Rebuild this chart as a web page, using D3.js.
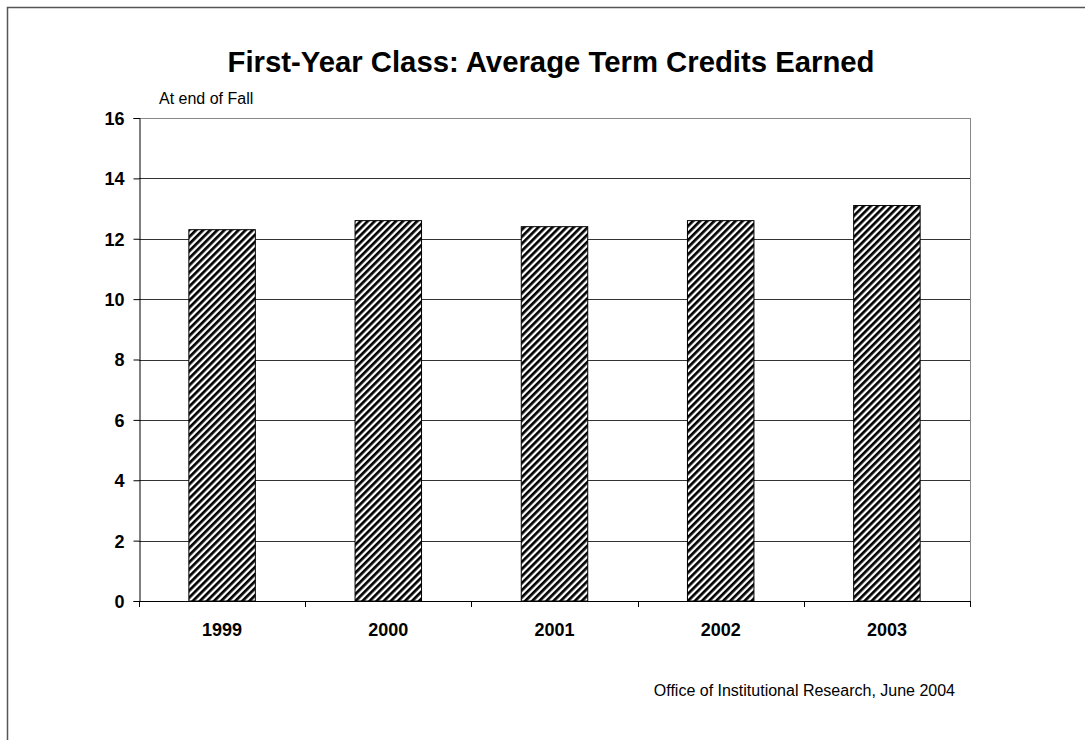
<!DOCTYPE html>
<html>
<head>
<meta charset="utf-8">
<script src="https://cdn.jsdelivr.net/npm/d3@7"></script>
<style>
  html, body { margin: 0; padding: 0; background: #fff; }
  svg { display: block; font-family: "Liberation Sans", Arial, sans-serif; }
</style>
</head>
<body>
<svg id="chart" width="1085" height="740"></svg>
<script>
// Average term credits earned by the first-year class, at end of Fall
const years = ["1999", "2000", "2001", "2002", "2003"];
const credits = [12.3, 12.6, 12.4, 12.6, 13.1];
const yTicks = [0, 2, 4, 6, 8, 10, 12, 14, 16];

const svg = d3.select("#chart");
const W = 1085, H = 740;
const plot = { left: 139, right: 970, top: 118, bottom: 601 };
const FONT = "Liberation Sans, Arial, sans-serif";

// page frame
svg.append("rect")
  .attr("x", 7.5).attr("y", 7.5)
  .attr("width", W + 20).attr("height", H + 20)
  .attr("fill", "none").attr("stroke", "#555").attr("stroke-width", 1.5);

// diagonal hatch fill for the bars
const defs = svg.append("defs");
const P = 5;
const pat = defs.append("pattern")
  .attr("id", "hatch")
  .attr("patternUnits", "userSpaceOnUse")
  .attr("width", P).attr("height", P)
  .attr("patternTransform", "rotate(45)");
pat.append("rect").attr("width", P).attr("height", P).attr("fill", "#fff");
pat.append("rect").attr("x", 0).attr("y", 0).attr("width", 2.7).attr("height", P).attr("fill", "#000");

const x = d3.scaleBand().domain(years).range([plot.left, plot.right]).paddingInner(0.6).paddingOuter(0.3);
const xEdge = d3.scaleBand().domain(years).range([plot.left, plot.right]);
const y = d3.scaleLinear().domain([0, 16]).range([plot.bottom, plot.top]);

// horizontal gridlines
svg.append("g").selectAll("line")
  .data(yTicks.filter(d => d > 0))
  .join("line")
  .attr("x1", plot.left).attr("x2", plot.right)
  .attr("y1", d => Math.round(y(d)) + 0.5).attr("y2", d => Math.round(y(d)) + 0.5)
  .attr("stroke", d => d === 16 ? "#888" : "#333").attr("stroke-width", 1);

// right border of plot area
svg.append("line")
  .attr("x1", plot.right + 0.5).attr("x2", plot.right + 0.5)
  .attr("y1", plot.top).attr("y2", plot.bottom)
  .attr("stroke", "#888").attr("stroke-width", 1);

// bars
svg.append("g").selectAll("rect")
  .data(years.map((yr, i) => ({ yr, v: credits[i] })))
  .join("rect")
  .attr("x", d => x(d.yr))
  .attr("width", x.bandwidth())
  .attr("y", d => y(d.v))
  .attr("height", d => y(0) - y(d.v))
  .attr("fill", "url(#hatch)")
  .attr("stroke", "#000").attr("stroke-width", 1);

// y axis
const yAxis = d3.axisLeft(y).tickValues(yTicks).tickSize(6).tickPadding(9).tickFormat(d3.format("d"));
const gy = svg.append("g").attr("transform", `translate(${plot.left + 0.5},0)`).call(yAxis);
gy.attr("font-family", FONT).attr("font-size", 18);
gy.select(".domain").attr("stroke", "#000");
gy.selectAll(".tick line").attr("stroke", "#000");
gy.selectAll("text").attr("font-weight", "bold").attr("fill", "#000").attr("dy", "0.36em");

// x axis: ticks sit at category boundaries
const boundaries = years.map(yr => xEdge(yr)).concat([plot.right]);
const gx = svg.append("g");
gx.append("line")
  .attr("x1", plot.left).attr("x2", plot.right + 1)
  .attr("y1", plot.bottom + 0.5).attr("y2", plot.bottom + 0.5)
  .attr("stroke", "#000");
gx.selectAll("line.tk").data(boundaries).join("line").attr("class", "tk")
  .attr("x1", d => Math.round(d) + 0.5).attr("x2", d => Math.round(d) + 0.5)
  .attr("y1", plot.bottom).attr("y2", plot.bottom + 6)
  .attr("stroke", "#000");
gx.selectAll("text").data(years).join("text")
  .attr("x", d => xEdge(d) + xEdge.bandwidth() / 2)
  .attr("y", 636)
  .attr("text-anchor", "middle")
  .attr("font-size", 18).attr("font-weight", "bold")
  .text(d => d);

// title
svg.append("text")
  .attr("x", 551).attr("y", 72)
  .attr("text-anchor", "middle")
  .attr("font-size", 29.3).attr("font-weight", "bold")
  .text("First-Year Class: Average Term Credits Earned");

// axis caption
svg.append("text")
  .attr("x", 159).attr("y", 104)
  .attr("font-size", 16)
  .text("At end of Fall");

// source note
svg.append("text")
  .attr("x", 955).attr("y", 696)
  .attr("text-anchor", "end")
  .attr("font-size", 16)
  .text("Office of Institutional Research, June 2004");
</script>
</body>
</html>
